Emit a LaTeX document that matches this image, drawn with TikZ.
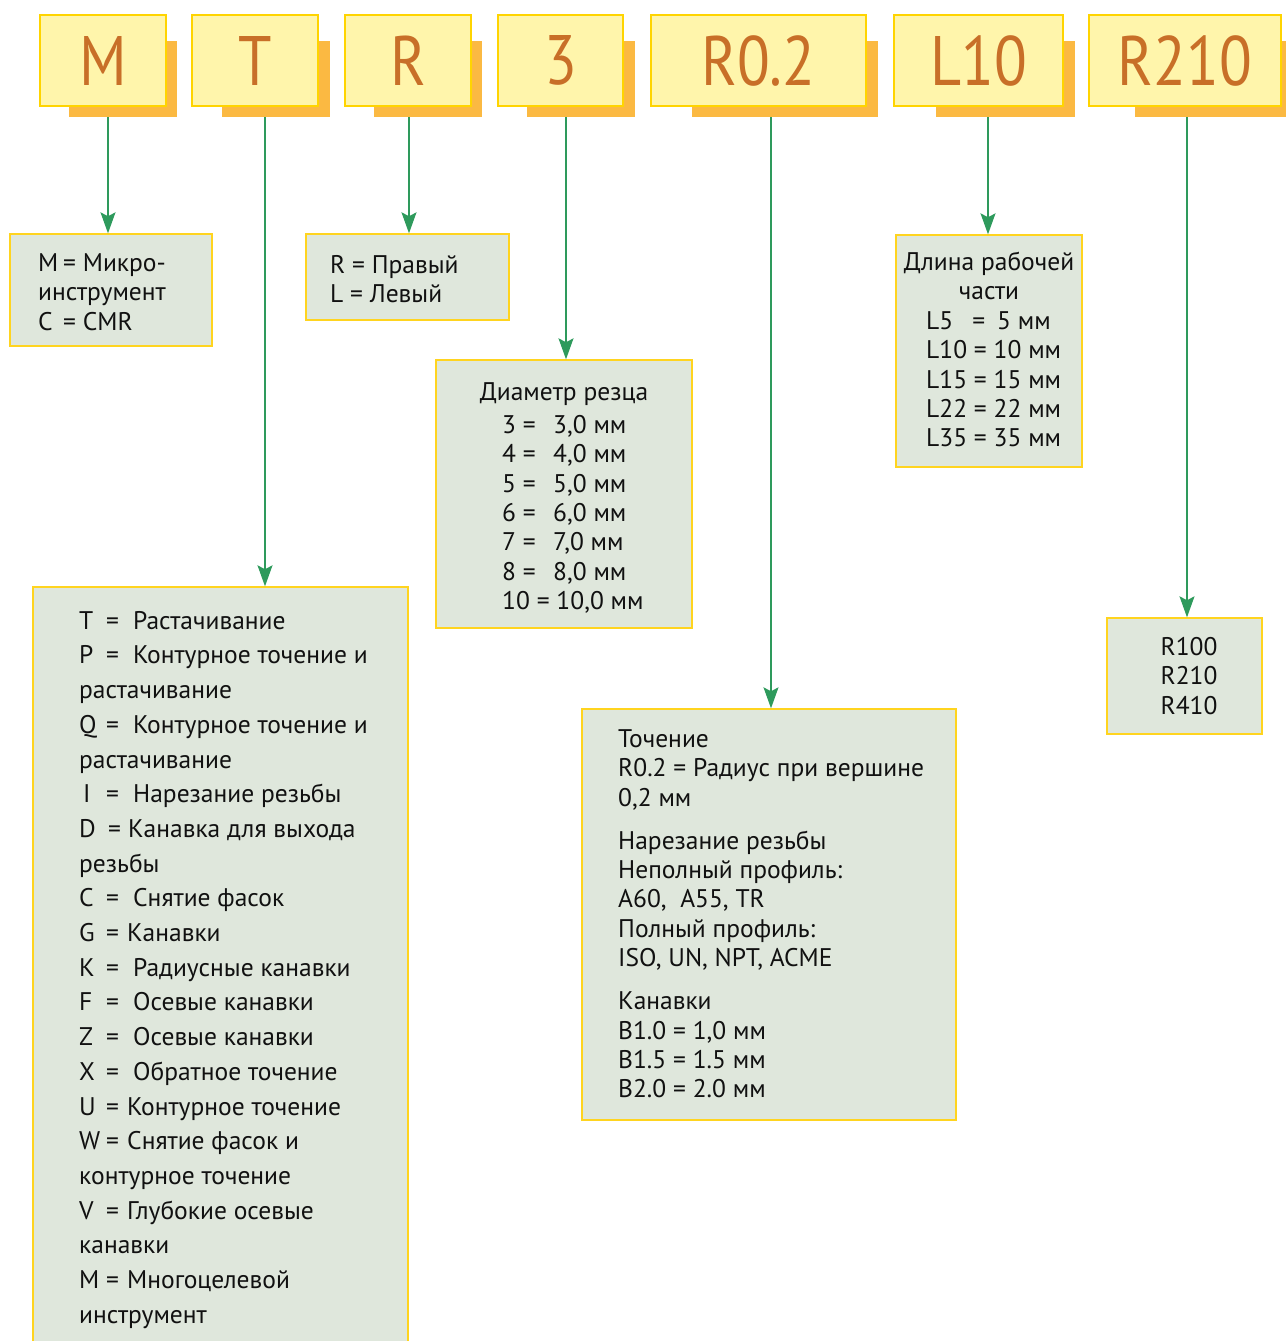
\documentclass[tikz,border=0pt]{standalone}
\usepackage{fontspec}
\setmainfont{PT Sans}
\newfontfamily\codefont[FakeStretch=0.86]{PT Sans}
\usetikzlibrary{arrows.meta}

\definecolor{codefill}{HTML}{FFF5AB}
\definecolor{codeedge}{HTML}{FFD400}
\definecolor{codeshade}{HTML}{FBB942}
\definecolor{codetext}{HTML}{C86F28}
\definecolor{infofill}{HTML}{DFE7DC}
\definecolor{infoedge}{HTML}{FFD41F}
\definecolor{linkgreen}{HTML}{2E9A5C}
\definecolor{ink}{HTML}{111111}

\tikzset{
  codebox/.style={draw=codeedge, line width=1.3pt, fill=codefill, inner sep=0pt,
    minimum height=91pt, text=codetext, font=\codefont\fontsize{70}{70}\selectfont},
  infobox/.style={draw=infoedge, line width=1.4pt, fill=infofill, inner sep=0pt},
  link/.style={draw=linkgreen, line width=1.3pt,
    -{Stealth[length=21pt, width=15pt, inset=4pt, fill=linkgreen]}},
  txt/.style={inner sep=0pt, anchor=north west, align=left, text=ink,
    font=\fontsize{25.5}{29.4}\selectfont},
  txtT/.style={txt, font=\fontsize{25.5}{34.7}\selectfont},
  txtc/.style={txt, anchor=north, align=center},
}

% code tile: name, left, right, shadow left, shadow right, label
\newcommand\codetile[6]{%
  \fill[codeshade] (#4,41) rectangle (#5,117);
  \node[codebox, minimum width={#3-#2}] (#1) at ({(#2+#3)/2},60.5) {#6};
}
% explanation panel: name, left, top, right, bottom
\newcommand\panel[5]{%
  \node[infobox, minimum width={#4-#2}, minimum height={#5-#3}] (#1)
    at ({(#2+#4)/2},{(#3+#5)/2}) {};
}
\newcommand\fl{\rule{0pt}{20pt}}
\newcommand\kw[2]{\makebox[#1][l]{#2}}

\begin{document}
\begin{tikzpicture}[x=1pt, y=-1pt]
\useasboundingbox[fill=white] (0,0) rectangle (1285,1341);

% ---- code tiles ----
\codetile{cM}{40}{166}{69}{177}{M}
\codetile{cT}{192}{318}{222}{330}{T}
\codetile{cR}{345}{471}{374}{482}{R}
\codetile{cD}{498}{623}{527}{635}{3}
\codetile{cRad}{651}{866}{692}{878}{R0.2}
\codetile{cL}{894}{1063}{936}{1075}{L10}
\codetile{cS}{1089}{1281}{1135}{1295}{R210}

% ---- explanation panels ----
\panel{bM}{10}{234}{212}{346}
\panel{bR}{306}{234}{509}{320}
\panel{bD}{436}{360}{692}{628}
\panel{bL}{896}{235}{1082}{467}
\panel{bT}{33}{587}{408}{1360}
\panel{bRad}{582}{709}{956}{1120}
\panel{bS}{1107}{618}{1262}{734}

% ---- connectors ----
\coordinate (sM) at (108,117);
\coordinate (sT) at (265,117);
\coordinate (sR) at (409,117);
\coordinate (sD) at (566,117);
\coordinate (sRad) at (771,117);
\coordinate (sL) at (988,117);
\coordinate (sS) at (1187,117);
\draw[link] (sM) -- (sM |- bM.north);
\draw[link] (sT) -- (sT |- bT.north);
\draw[link] (sR) -- (sR |- bR.north);
\draw[link] (sD) -- (sD |- bD.north);
\draw[link] (sRad) -- (sRad |- bRad.north);
\draw[link] (sL) -- (sL |- bL.north);
\draw[link] (sS) -- (sS |- bS.north);

% ---- panel texts ----
\node[txt] (tM) at (38,251) {\fl\kw{25pt}{M}= Микро-\\инструмент\\\kw{25pt}{C}= CMR};

\node[txt] (tR) at (330,253) {\fl R = Правый\\L = Левый};

\node[txtc] (tDh) at (564,380) {\fl Диаметр резца};
\node[txt] (tD) at (502,413) {\fl\kw{51pt}{3 =}3,0 мм\\\kw{51pt}{4 =}4,0 мм\\\kw{51pt}{5 =}5,0 мм\\
  \kw{51pt}{6 =}6,0 мм\\\kw{51pt}{7 =}7,0 мм\\\kw{51pt}{8 =}8,0 мм\\10 = 10,0 мм};

\node[txtc] (tLh) at (989,250) {\fl Длина рабочей\\части};
\node[txt] (tL) at (926,309) {\fl L5\hspace{19pt}=\hspace{12pt}5 мм\\L10 = 10 мм\\L15 = 15 мм\\L22 = 22 мм\\L35 = 35 мм};

\node[txtT] (tT) at (79,609) {\fl
  \kw{27pt}{T}\kw{27pt}{=}Растачивание\\
  \kw{27pt}{P}\kw{27pt}{=}Контурное точение и\\
  растачивание\\
  \kw{27pt}{Q}\kw{27pt}{=}Контурное точение и\\
  растачивание\\
  \kw{27pt}{\hspace{4pt}I}\kw{27pt}{=}Нарезание резьбы\\
  \kw{29pt}{D}\kw{20pt}{=}Канавка для выхода\\
  резьбы\\
  \kw{27pt}{C}\kw{27pt}{=}Снятие фасок\\
  \kw{27pt}{G}\kw{21pt}{=}Канавки\\
  \kw{27pt}{K}\kw{27pt}{=}Радиусные канавки\\
  \kw{27pt}{F}\kw{27pt}{=}Осевые канавки\\
  \kw{27pt}{Z}\kw{27pt}{=}Осевые канавки\\
  \kw{27pt}{X}\kw{27pt}{=}Обратное точение\\
  \kw{27pt}{U}\kw{21pt}{=}Контурное точение\\
  \kw{27pt}{W}\kw{21pt}{=}Снятие фасок и\\
  контурное точение\\
  \kw{27pt}{V}\kw{21pt}{=}Глубокие осевые\\
  канавки\\
  \kw{27pt}{M}\kw{21pt}{=}Многоцелевой\\
  инструмент};

\node[txt] (tRad) at (618,727) {\fl Точение\\
  R0.2 = Радиус при вершине\\
  0,2 мм\\[13.6pt]
  Нарезание резьбы\\
  Неполный профиль:\\
  A60,\ \ A55, TR\\
  Полный профиль:\\
  ISO, UN, NPT, ACME\\[13.6pt]
  Канавки\\
  B1.0 = 1,0 мм\\
  B1.5 = 1.5 мм\\
  B2.0 = 2.0 мм};

\node[txtc] (tS) at (1189,635) {\fl R100\\R210\\R410};
\end{tikzpicture}
\end{document}
